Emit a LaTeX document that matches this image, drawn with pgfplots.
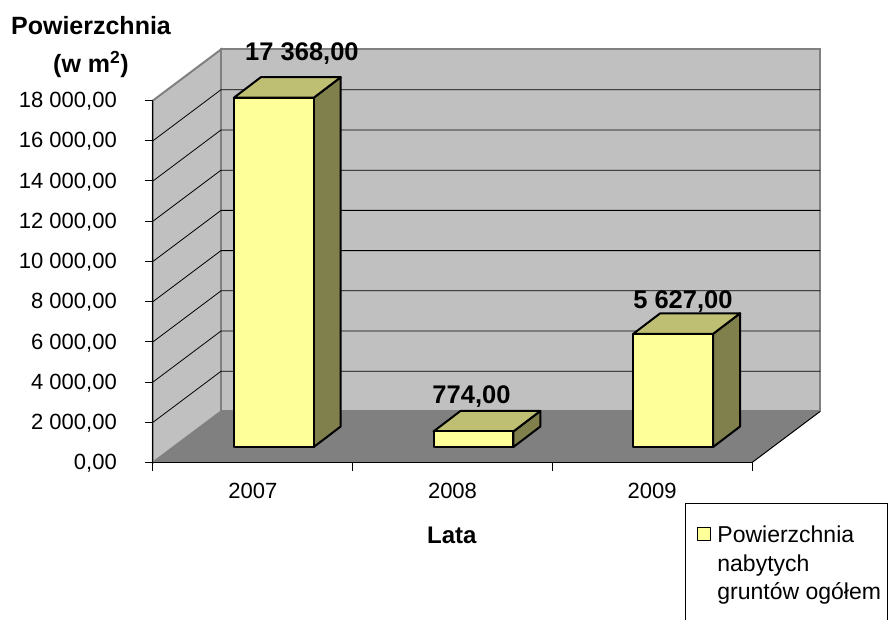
\documentclass[border=0pt]{standalone}
\usepackage{fontspec}
\setmainfont{Liberation Sans}
\usepackage{pgfplots}
\pgfplotsset{compat=1.18}

\definecolor{wall}{HTML}{C0C0C0}
\definecolor{floorc}{HTML}{808080}
\definecolor{barfront}{HTML}{FFFF99}
\definecolor{bartop}{HTML}{BFBF73}
\definecolor{barside}{HTML}{80804D}

% 1pt = 1px of the reference; depth of the box is 0.3406 categories / 2536 m2
\pgfplotsset{
  gridline/.style={black, line width=0.8pt},
  box3d/.style={draw=black, line width=2pt, line join=round, xshift=21pt, yshift=15.5pt},
}
\newcommand\legline[1]{\makebox[202pt][l]{\hspace*{32pt}#1}}

\begin{document}
\begin{tikzpicture}
\useasboundingbox (-153pt,-157.5pt) rectangle (735pt,462.5pt);
\begin{axis}[
    scale only axis, width=599pt, height=362pt,
    at={(0pt,0pt)}, anchor=south west,
    clip=false, axis on top,
    xmin=0, xmax=3, ymin=0, ymax=18000,
    axis x line=bottom, axis y line=left,
    axis line style={-, black, line width=1pt},
    tick style={black, line width=1pt},
    tick align=outside, major tick length=8pt,
    xtick={0,1,2,3}, x tick label as interval,
    xticklabels={2007,2008,2009},
    ytick distance=2000, scaled y ticks=false,
    /pgf/number format/.cd, assume math mode=true, fixed, fixed zerofill, precision=2,
      use comma, 1000 sep={\ },
    /pgfplots/.cd,
    tick label style={font=\fontsize{22}{26}\selectfont},
    yticklabel style={inner sep=0pt, xshift=-28pt, yshift=-1pt},
    xticklabel style={inner sep=0pt, yshift=-12pt},
    xlabel={Lata},
    xlabel style={at={(axis description cs:0.499,-0.2)}, anchor=center, inner sep=0pt, font=\fontsize{24}{26}\selectfont\bfseries},
    ylabel={Powierzchnia\\[1pt](w m\textsuperscript{2})},
    ylabel style={at={(axis description cs:-0.1035,1.148)}, rotate=-90, anchor=center, align=center, inner sep=0pt, font=\fontsize{25}{37}\selectfont\bfseries},
    legend style={at={(0.888,-0.1119)}, anchor=north west, draw=black, line width=1pt,
      font=\fontsize{23}{24}\selectfont, inner xsep=0pt, inner ysep=22pt, row sep=6.5pt,
      nodes={inner sep=0pt, text height=17pt, text depth=5pt}},
    legend cell align=left,
    legend image code/.code={\draw[overlay, fill=barfront, draw=black, line width=1.5pt] (-9pt,-19.5pt) rectangle (4pt,-6.5pt);},
]
% walls and floor
\addplot[fill=wall, draw=floorc, line width=2pt, forget plot] coordinates {(0,0) (0,18000) (0.3406,20536) (0.3406,2536)} -- cycle;
\addplot[fill=wall, draw=floorc, line width=2pt, forget plot] coordinates {(0.3406,2536) (0.3406,20536) (3.3406,20536) (3.3406,2536)} -- cycle;
\addplot[fill=floorc, draw=none, forget plot] coordinates {(0,0) (3,0) (3.3406,2536) (0.3406,2536)} -- cycle;
\addplot[black, line width=1pt, forget plot] coordinates {(3,0) (3.3406,2536)};
% gridlines, left wall then back wall
\addplot[gridline, forget plot] coordinates {(0,2000) (0.3406,4536) (3.3406,4536)};
\addplot[gridline, forget plot] coordinates {(0,4000) (0.3406,6536) (3.3406,6536)};
\addplot[gridline, forget plot] coordinates {(0,6000) (0.3406,8536) (3.3406,8536)};
\addplot[gridline, forget plot] coordinates {(0,8000) (0.3406,10536) (3.3406,10536)};
\addplot[gridline, forget plot] coordinates {(0,10000) (0.3406,12536) (3.3406,12536)};
\addplot[gridline, forget plot] coordinates {(0,12000) (0.3406,14536) (3.3406,14536)};
\addplot[gridline, forget plot] coordinates {(0,14000) (0.3406,16536) (3.3406,16536)};
\addplot[gridline, forget plot] coordinates {(0,16000) (0.3406,18536) (3.3406,18536)};

% 2007
\addplot[box3d, fill=barside, forget plot] coordinates {(0.7,0) (0.835,1020) (0.835,18388) (0.7,17368)} -- cycle;
\addplot[box3d, fill=bartop, forget plot] coordinates {(0.3,17368) (0.7,17368) (0.835,18388) (0.435,18388)} -- cycle;
\addplot[box3d, fill=barfront, forget plot] coordinates {(0.3,0) (0.7,0) (0.7,17368) (0.3,17368)} -- cycle;
% 2008
\addplot[box3d, fill=barside, forget plot] coordinates {(1.7,0) (1.835,1020) (1.835,1794) (1.7,774)} -- cycle;
\addplot[box3d, fill=bartop, forget plot] coordinates {(1.3,774) (1.7,774) (1.835,1794) (1.435,1794)} -- cycle;
\addplot[box3d, fill=barfront, forget plot] coordinates {(1.3,0) (1.7,0) (1.7,774) (1.3,774)} -- cycle;
% 2009
\addplot[box3d, fill=barside, forget plot] coordinates {(2.7,0) (2.835,1020) (2.835,6647) (2.7,5627)} -- cycle;
\addplot[box3d, fill=bartop, forget plot] coordinates {(2.3,5627) (2.7,5627) (2.835,6647) (2.435,6647)} -- cycle;
\addplot[box3d, fill=barfront] coordinates {(2.3,0) (2.7,0) (2.7,5627) (2.3,5627)} -- cycle;
\addlegendentry{\legline{Powierzchnia}}
\addlegendimage{empty legend}\addlegendentry{\legline{nabytych}}
\addlegendimage{empty legend}\addlegendentry{\legline{gruntów ogółem}}
\addlegendimage{empty legend}\addlegendentry{\legline{\ }}

\node[font=\fontsize{25.5}{26}\selectfont\bfseries] at (axis cs:0.746,20310) {17 368,00};
\node[font=\fontsize{25.5}{26}\selectfont\bfseries] at (axis cs:1.595,3256) {774,00};
\node[font=\fontsize{25.5}{26}\selectfont\bfseries] at (axis cs:2.654,7980) {5 627,00};
\end{axis}
\end{tikzpicture}
\end{document}
